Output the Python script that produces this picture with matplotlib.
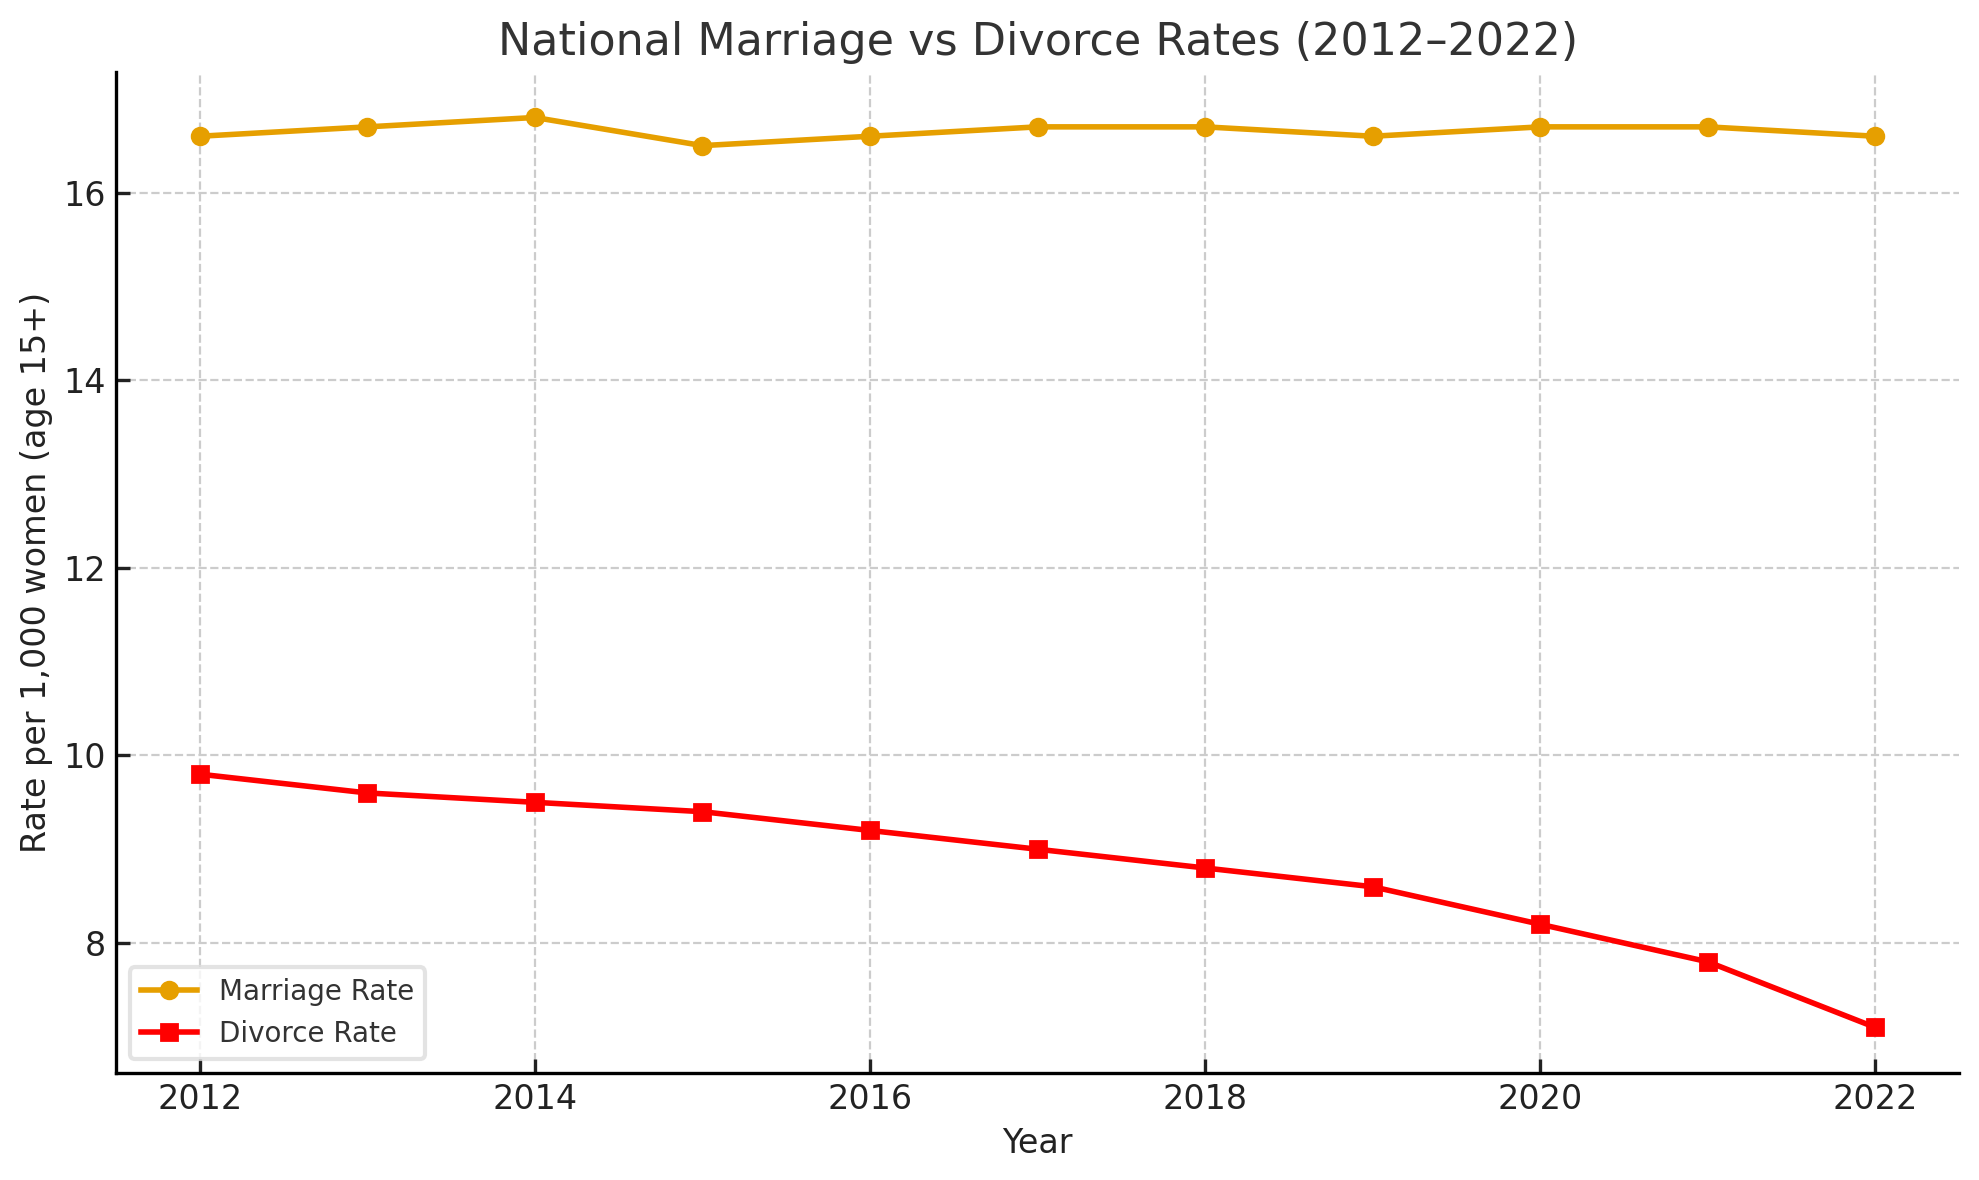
import matplotlib
matplotlib.use('Agg')
import matplotlib.pyplot as plt

years = [2012, 2013, 2014, 2015, 2016, 2017, 2018, 2019, 2020, 2021, 2022]
marriage_rate = [16.6, 16.7, 16.8, 16.5, 16.6, 16.7, 16.7, 16.6, 16.7, 16.7, 16.6]
divorce_rate = [9.8, 9.6, 9.5, 9.4, 9.2, 9.0, 8.8, 8.6, 8.2, 7.8, 7.1]

plt.rcParams['font.family'] = ['DejaVu Sans']

fig = plt.figure(figsize=(9.895, 5.9), dpi=200)
ax = fig.add_axes([0.0586, 0.0907, 0.9314, 0.8483])

ax.plot(years, marriage_rate, marker='o', color='#E69F00', linewidth=2, markersize=6, label='Marriage Rate')
ax.plot(years, divorce_rate, marker='s', color='red', linewidth=2, markersize=6, label='Divorce Rate')

ax.set_title('National Marriage vs Divorce Rates (2012\u20132022)', fontsize=16, color='#333333')
ax.set_xlabel('Year', fontsize=12, color='#222222')
ax.set_ylabel('Rate per 1,000 women (age 15+)', fontsize=12, color='#222222')

ax.grid(True, linestyle='--', color='#cccccc', linewidth=0.8)
ax.set_axisbelow(True)
ax.spines['top'].set_visible(False)
ax.spines['right'].set_visible(False)
ax.spines['left'].set_linewidth(1.2)
ax.spines['bottom'].set_linewidth(1.2)
ax.tick_params(direction='in', labelsize=12, colors='#222222', width=1.2, length=5)

leg = ax.legend(loc='lower left', fontsize=10, frameon=True)
leg.get_frame().set_edgecolor('#dddddd')
leg.get_frame().set_linewidth(1.5)
for t in leg.get_texts():
    t.set_color('#333333')

fig.savefig('out.png', dpi=200)
